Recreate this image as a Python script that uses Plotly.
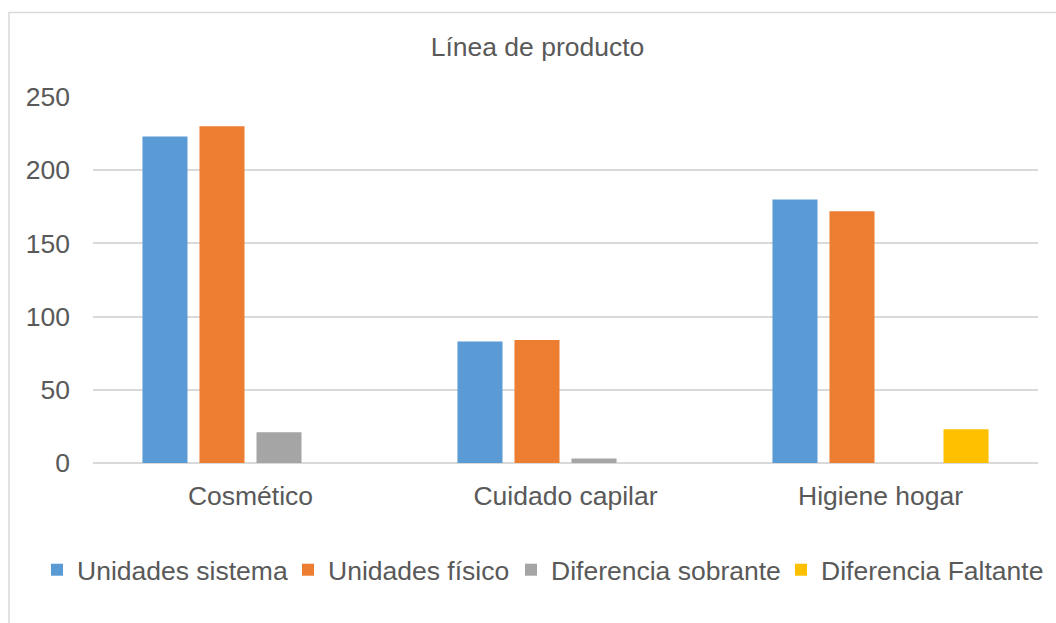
import plotly.graph_objects as go

categories = ["Cosmético", "Cuidado capilar", "Higiene hogar"]
unidades_sistema = [223, 83, 180]
unidades_fisico = [230, 84, 172]
diferencia_sobrante = [21, 3, 0]
diferencia_faltante = [0, 0, 23]
y_ticks = [0, 50, 100, 150, 200, 250]

series = [
    ("Unidades sistema", unidades_sistema, "#5B9BD5"),
    ("Unidades físico", unidades_fisico, "#ED7D31"),
    ("Diferencia sobrante", diferencia_sobrante, "#A5A5A5"),
    ("Diferencia Faltante", diferencia_faltante, "#FFC000"),
]
legend_text_starts = [75, 326, 549, 819]

W, H = 1056, 623
L, R, T, B = 93, 1038, 97, 463
pw, ph = R - L, B - T
FS = 26.5

def px_x(p):
    return (p - L) / pw

def px_y(p):
    return (B - p) / ph

font_col = "#595959"
fig = go.Figure()
legend_layouts = {}
for i, (name, vals, col) in enumerate(series):
    lname = "legend" if i == 0 else f"legend{i + 1}"
    fig.add_trace(go.Bar(name=name, x=categories, y=vals, legend=lname,
                         marker=dict(color=col, line=dict(width=0))))
    legend_layouts[lname] = dict(orientation="h", x=px_x(legend_text_starts[i] - 38), y=px_y(570),
                                 xanchor="left", yanchor="middle", bgcolor="rgba(0,0,0,0)",
                                 font=dict(size=FS, color=font_col))

fig.update_layout(
    width=W, height=H,
    margin=dict(l=L, r=W - R, t=T, b=H - B, pad=0, autoexpand=False),
    paper_bgcolor="white", plot_bgcolor="white",
    barmode="group", bargap=0.276, bargroupgap=0.21,
    font=dict(family="Liberation Sans, Arial, sans-serif", size=FS, color=font_col),
    title=dict(text="Línea de producto", x=537.5 / W, y=1 - 47 / H, xanchor="center", yanchor="middle",
               font=dict(size=FS, color=font_col)),
    showlegend=True,
    xaxis=dict(showgrid=False, showline=False, zeroline=False, ticks="", ticklabelstandoff=14,
               tickfont=dict(size=FS, color=font_col), automargin=False),
    yaxis=dict(range=[0, 250], tickvals=y_ticks, showgrid=True, gridcolor="#D9D9D9", gridwidth=1.5,
               zeroline=True, zerolinecolor="#D9D9D9", zerolinewidth=1.5, showline=False, ticks="",
               ticklabelstandoff=22, tickfont=dict(size=FS, color=font_col), automargin=False),
    **legend_layouts,
)

fig.add_shape(type="rect", xref="paper", yref="paper",
              x0=px_x(9), x1=px_x(1080), y0=px_y(640), y1=px_y(12.5),
              line=dict(color="#D9D9D9", width=1.5), fillcolor="rgba(0,0,0,0)", layer="below")

fig.write_html("out.html")
